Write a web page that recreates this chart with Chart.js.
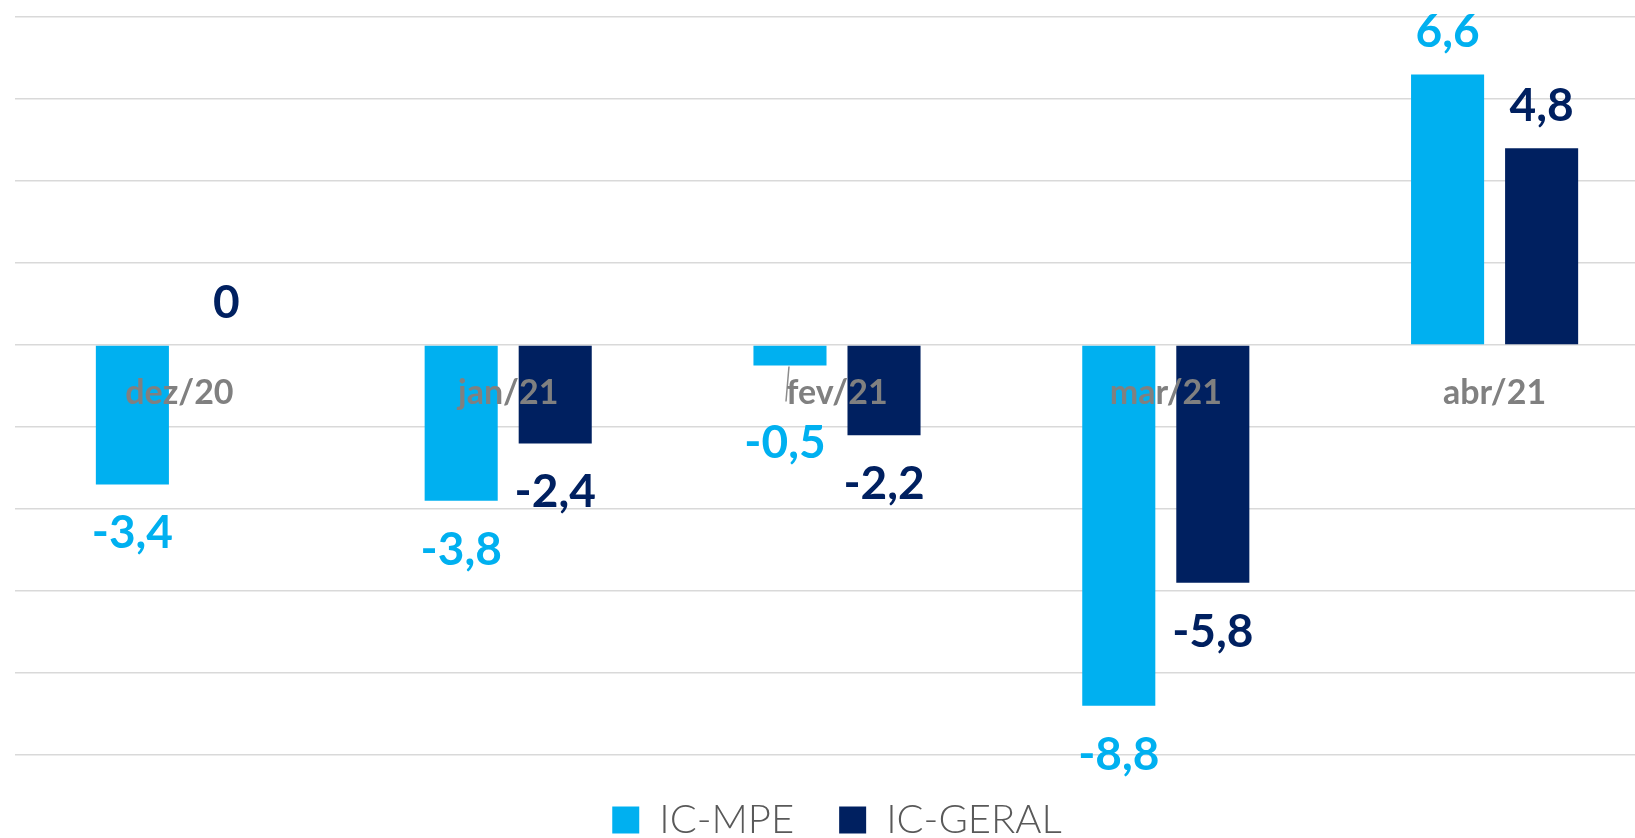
<!DOCTYPE html>
<html lang="pt-BR">
<head>
<meta charset="utf-8">
<title>IC-MPE x IC-GERAL</title>
<script src="https://cdn.jsdelivr.net/npm/chart.js@4"></script>
<style>
  html, body { margin: 0; padding: 0; background: #fff; overflow: hidden; }
  #contGrafica { position: relative; width: 1659px; height: 838px; }
</style>
</head>
<body>
<div id="contGrafica"><canvas id="grafica"></canvas></div>
<script>
// dados
const meses = ['dez/20', 'jan/21', 'fev/21', 'mar/21', 'abr/21'];
const icMpe = [-3.4, -3.8, -0.5, -8.8, 6.6];
const icGeral = [0, -2.4, -2.2, -5.8, 4.8];
const ticksY = [8, 6, 4, 2, 0, -2, -4, -6, -8, -10];

const azulClaro = '#00B0F0';
const azulEscuro = '#002060';

function formato(v) {
    return String(v).replace('.', ',');
}

// rótulos de valor (sem plugin externo)
const rotulos = {
    id: 'rotulos',
    afterDatasetsDraw(chart) {
        const ctx = chart.ctx;
        ctx.save();
        ctx.font = 'bold 46px Lato';
        ctx.textAlign = 'center';
        ctx.textBaseline = 'alphabetic';
        chart.data.datasets.forEach((ds, i) => {
            const meta = chart.getDatasetMeta(i);
            meta.data.forEach((bar, j) => {
                const v = ds.data[j];
                let x = bar.x;
                let y = v >= 0 ? bar.y - 27 : bar.y + 64;
                // rótulo deslocado com linha guia (fev/21)
                if (i === 0 && j === 2) {
                    ctx.strokeStyle = '#8c8c8c';
                    ctx.lineWidth = 1.5;
                    ctx.beginPath();
                    ctx.moveTo(bar.x - 1, bar.y + 1);
                    ctx.lineTo(bar.x - 4, bar.y + 36);
                    ctx.stroke();
                    x -= 5;
                    y += 28;
                }
                ctx.fillStyle = ds.backgroundColor;
                ctx.fillText(formato(v), x, y);
            });
        });
        ctx.restore();
    }
};

const graph = document.querySelector('#grafica');
const Grafico = new Chart(graph, {
    type: 'bar',
    data: {
        labels: meses,
        datasets: [{
            label: 'IC-MPE',
            data: icMpe,
            backgroundColor: azulClaro,
            borderWidth: 0
        }, {
            label: 'IC-GERAL',
            data: icGeral,
            backgroundColor: azulEscuro,
            borderWidth: 0
        }]
    },
    options: {
        responsive: true,
        maintainAspectRatio: false,
        animation: false,
        categoryPercentage: 0.572,
        barPercentage: 0.777,
        layout: { padding: { left: 15, right: 0, top: 17, bottom: -12 } },
        scales: {
            x: {
                position: { y: 0 },
                grid: { display: false, drawTicks: false },
                border: { display: false },
                ticks: {
                    z: 1,
                    padding: 28,
                    color: '#808080',
                    font: { family: 'Lato', size: 34, weight: 'bold' }
                }
            },
            y: {
                min: ticksY[ticksY.length - 1],
                max: ticksY[0],
                afterBuildTicks: (scale) => {
                    scale.ticks = ticksY.map(v => ({ value: v }));
                },
                grid: { color: '#D9D9D9', lineWidth: 1.5, drawTicks: false },
                border: { display: false },
                ticks: { display: false }
            }
        },
        plugins: {
            legend: {
                position: 'bottom',
                labels: {
                    boxWidth: 27,
                    boxHeight: 27,
                    padding: 45,
                    color: '#595959',
                    font: { family: 'Lato', size: 40, weight: '300' }
                }
            },
            tooltip: { enabled: false }
        }
    },
    plugins: [rotulos]
});
</script>
</body>
</html>
